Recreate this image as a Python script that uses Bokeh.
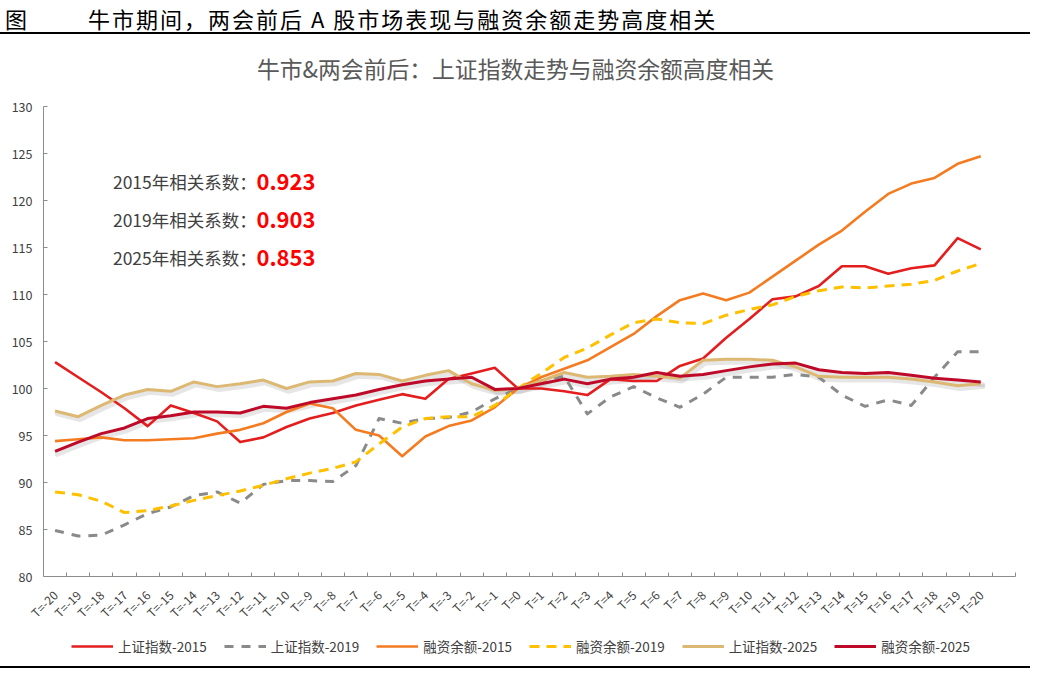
from bokeh.plotting import figure
from bokeh.models import Range1d, FixedTicker, Legend, LegendItem, Label, Div, ColumnDataSource
from bokeh.transform import dodge
from bokeh.layouts import column
from bokeh.embed import file_html
from bokeh.resources import INLINE

# ---------------- data ----------------
categories = ["T=-20", "T=-19", "T=-18", "T=-17", "T=-16", "T=-15", "T=-14", "T=-13", "T=-12", "T=-11",
              "T=-10", "T=-9", "T=-8", "T=-7", "T=-6", "T=-5", "T=-4", "T=-3", "T=-2", "T=-1",
              "T=0", "T=1", "T=2", "T=3", "T=4", "T=5", "T=6", "T=7", "T=8", "T=9",
              "T=10", "T=11", "T=12", "T=13", "T=14", "T=15", "T=16", "T=17", "T=18", "T=19", "T=20"]

sh_2015 = [102.8, 101.2, 99.6, 97.9, 96.0, 98.2, 97.4, 96.5, 94.3, 94.8,
           95.9, 96.8, 97.4, 98.2, 98.8, 99.4, 98.9, 101.0, 101.6, 102.2,
           100.0, 100.0, 99.7, 99.3, 101.0, 100.8, 100.8, 102.4, 103.2, 105.4,
           107.4, 109.5, 109.8, 110.9, 113.0, 113.0, 112.2, 112.8, 113.1, 116.0, 114.8]

sh_2019 = [84.9, 84.3, 84.4, 85.5, 86.7, 87.4, 88.6, 89.0, 87.8, 89.8,
           90.2, 90.2, 90.1, 91.8, 96.8, 96.3, 96.8, 96.9, 97.5, 98.9,
           100.0, 100.8, 101.3, 97.3, 99.1, 100.2, 99.0, 98.0, 99.4, 101.2,
           101.2, 101.2, 101.5, 101.2, 99.3, 98.1, 98.8, 98.2, 101.2, 103.9, 103.9]

rz_2015 = [94.4, 94.6, 94.8, 94.5, 94.5, 94.6, 94.7, 95.2, 95.6, 96.3,
           97.5, 98.4, 97.9, 95.6, 95.0, 92.8, 94.9, 96.0, 96.6, 98.0,
           100.0, 101.2, 102.1, 103.0, 104.4, 105.8, 107.7, 109.4, 110.1, 109.4,
           110.2, 111.9, 113.6, 115.3, 116.8, 118.8, 120.7, 121.8, 122.4, 123.9, 124.7]

rz_2019 = [89.0, 88.7, 88.0, 86.8, 87.0, 87.5, 88.1, 88.6, 89.1, 89.7,
           90.4, 91.0, 91.5, 92.2, 94.1, 95.9, 96.8, 97.0, 97.0, 98.2,
           100.0, 101.6, 103.3, 104.3, 105.7, 107.0, 107.4, 107.0, 106.9, 107.8,
           108.4, 108.9, 109.8, 110.4, 110.8, 110.7, 110.9, 111.1, 111.5, 112.5, 113.3]

sh_2025 = [97.6, 97.0, 98.2, 99.3, 99.9, 99.7, 100.7, 100.2, 100.5, 100.9,
           100.0, 100.7, 100.8, 101.6, 101.5, 100.8, 101.4, 101.9, 100.5, 99.8,
           100.0, 100.8, 101.7, 101.2, 101.3, 101.5, 101.3, 101.1, 103.0, 103.1,
           103.1, 103.0, 102.3, 101.3, 101.2, 101.2, 101.2, 101.0, 100.7, 100.3, 100.5]

rz_2025 = [93.3, 94.3, 95.2, 95.8, 96.8, 97.1, 97.5, 97.5, 97.4, 98.1,
           97.9, 98.5, 98.9, 99.3, 99.9, 100.4, 100.8, 101.0, 101.2, 99.9,
           100.0, 100.5, 101.0, 100.5, 101.0, 101.2, 101.7, 101.3, 101.5, 101.9,
           102.3, 102.6, 102.7, 102.0, 101.7, 101.6, 101.7, 101.4, 101.1, 100.9, 100.7]

series_names = ["上证指数-2015", "上证指数-2019", "融资余额-2015", "融资余额-2019", "上证指数-2025", "融资余额-2025"]
y_ticks = [80, 85, 90, 95, 100, 105, 110, 115, 120, 125, 130]

coef_labels = ["2015年相关系数：", "2019年相关系数：", "2025年相关系数："]
coef_values = ["0.923", "0.903", "0.853"]
coef_y = [122.05, 118.0, 113.9]

header_title = "牛市期间，两会前后 A 股市场表现与融资余额走势高度相关"
chart_title = "牛市&两会前后：上证指数走势与融资余额高度相关"

# ---------------- styles ----------------
FONT = "Noto Sans CJK SC"
styles = [
    dict(line_color="#E41E1E", line_width=2.6),
    dict(line_color="#8A8A8A", line_width=3, line_dash="9 8"),
    dict(line_color="#F47B20", line_width=2.6),
    dict(line_color="#FFC000", line_width=3, line_dash="10 7"),
    dict(line_color="#DDB873", line_width=3),
    dict(line_color="#BE0A28", line_width=3),
]
cols = ["s15", "s19", "r15", "r19", "s25", "r25"]

idx = list(range(len(categories)))
src = ColumnDataSource(dict(x=idx, s15=sh_2015, s19=sh_2019, r15=rz_2015, r19=rz_2019, s25=sh_2025, r25=rz_2025))

# ---------------- main plot ----------------
p = figure(width=1035, height=535,
           x_range=Range1d(-0.5, len(categories) + 0.5), y_range=Range1d(80, 130),
           output_backend="svg", toolbar_location=None,
           min_border_left=43, min_border_right=20, min_border_top=12, min_border_bottom=50,
           background_fill_color="white", border_fill_color="white")
p.xgrid.visible = False
p.ygrid.visible = False
p.outline_line_color = None

xa = p.xaxis[0]
xa.ticker = FixedTicker(ticks=idx, minor_ticks=[i + 0.5 for i in range(len(categories) + 1)])
xa.major_label_overrides = {i: c for i, c in enumerate(categories)}
xa.major_label_orientation = 0.785398
xa.major_tick_line_color = None
xa.minor_tick_in = 4
xa.minor_tick_out = 0
xa.minor_tick_line_color = "#8c8c8c"
xa.axis_line_color = "#8c8c8c"
xa.major_label_text_font = FONT
xa.major_label_text_font_size = "12px"
xa.major_label_text_color = "#404040"
xa.major_label_standoff = 10

ya = p.yaxis[0]
ya.ticker = FixedTicker(ticks=y_ticks)
ya.major_tick_in = 4
ya.major_tick_out = 0
ya.minor_tick_line_color = None
ya.major_tick_line_color = "#8c8c8c"
ya.axis_line_color = "#8c8c8c"
ya.major_label_text_font = FONT
ya.major_label_text_font_size = "12.5px"
ya.major_label_text_color = "#404040"
ya.major_label_standoff = 11

# soft shadows under the 2025 series
for col in ["s25", "r25"]:
    p.line(x=dodge("x", 0.09, range=p.x_range), y=dodge(col, -0.3, range=p.y_range), source=src,
           line_color="#808080", line_alpha=0.2, line_width=5, line_join="round", line_cap="round")

for col, st in zip(cols, styles):
    p.line("x", col, source=src, line_join="round", **st)

for lab, val, yy in zip(coef_labels, coef_values, coef_y):
    p.add_layout(Label(x=2.5, y=yy, text=lab, text_font=FONT, text_font_size="17.5px",
                       text_color="#404040", text_baseline="middle", text_align="left"))
    p.add_layout(Label(x=8.7, y=yy, text=val, text_font=FONT, text_font_size="22px",
                       text_font_style="bold", text_color="#FF0000", text_baseline="middle", text_align="left"))

# ---------------- legend strip (same series, legend only) ----------------
lf = figure(width=1035, height=37, x_range=Range1d(-1000, -999), y_range=Range1d(0, 1),
            output_backend="svg", toolbar_location=None, x_axis_location=None, y_axis_location=None,
            min_border_left=0, min_border_right=13, min_border_top=0, min_border_bottom=5,
            background_fill_color="white", border_fill_color="white")
lf.xgrid.visible = False
lf.ygrid.visible = False
lf.outline_line_color = None
lrs = [lf.line("x", col, source=src, **st) for col, st in zip(cols, styles)]
legend = Legend(items=[LegendItem(label=n, renderers=[r]) for n, r in zip(series_names, lrs)],
                orientation="horizontal", location=(28, 5),
                glyph_width=42, glyph_height=14, label_standoff=5, spacing=17,
                label_text_font=FONT, label_text_font_size="13.5px", label_text_color="#404040",
                border_line_color=None, background_fill_alpha=0, padding=2, margin=0)
lf.add_layout(legend, "center")

# ---------------- header / title / bottom rule ----------------
header = Div(text=(f'<div style="box-sizing:content-box;font-family:\'{FONT}\';font-size:22px;letter-spacing:2px;'
                   f'line-height:24px;color:#000;border-bottom:2px solid #000;height:26px;padding-top:6px;'
                   f'padding-left:5px;width:1025px;white-space:nowrap;margin:0;">'
                   f'<span>图</span><span style="margin-left:59px;">{header_title}</span></div>'),
             width=1035, height=34, margin=(0, 0, 0, 0))
title_div = Div(text=(f'<div style="box-sizing:content-box;font-family:\'{FONT}\';font-size:22.8px;line-height:30px;'
                      f'color:#595959;width:1031px;padding-right:4px;text-align:center;padding-top:20px;'
                      f'white-space:nowrap;margin:0;">{chart_title}</div>'),
                width=1035, height=60, margin=(0, 0, 0, 0))
bottom = Div(text='', width=1030, height=2, margin=(0, 0, 0, 0), styles={"background-color": "#000000"})

layout = column(header, title_div, p, lf, bottom, spacing=0)
open("out.html", "w").write(file_html(layout, INLINE))
